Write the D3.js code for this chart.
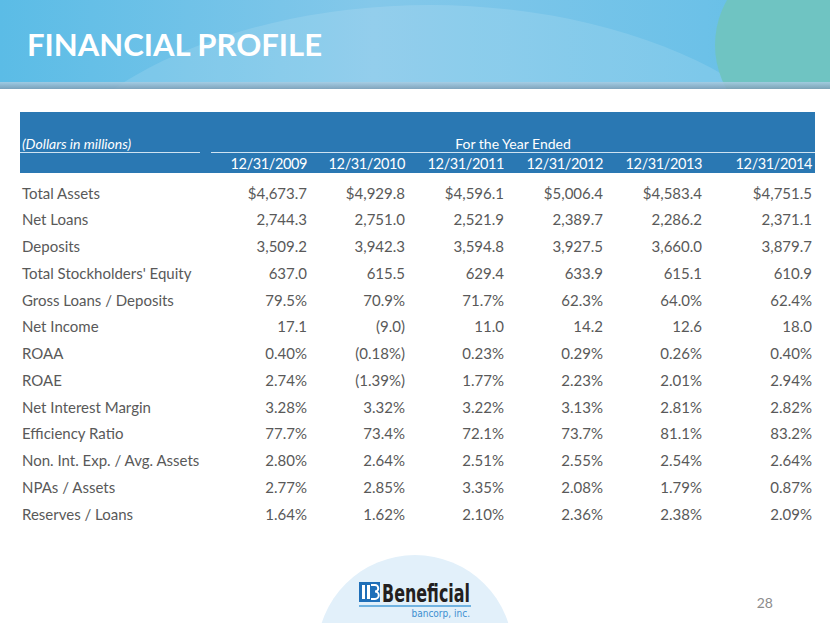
<!DOCTYPE html>
<meta charset="utf-8">
<style>
body { margin: 0; background: #fff; }
svg text { font-family: Lato, "Open Sans", sans-serif; }
.lbl, .val { fill: #595959; font-size: 15px; }
.hdr { fill: #fff; font-size: 15px; }
.yr { font-size: 14.5px; letter-spacing: -0.4px; }
</style>
<body>
<script src="https://cdn.jsdelivr.net/npm/d3@7"></script>
<script>
// table content
var years = ["12/31/2009", "12/31/2010", "12/31/2011", "12/31/2012", "12/31/2013", "12/31/2014"];
var rowLabels = ["Total Assets", "Net Loans", "Deposits", "Total Stockholders' Equity",
  "Gross Loans / Deposits", "Net Income", "ROAA", "ROAE", "Net Interest Margin",
  "Efficiency Ratio", "Non. Int. Exp. / Avg. Assets", "NPAs / Assets", "Reserves / Loans"];

var totalAssets   = [4673.7, 4929.8, 4596.1, 5006.4, 4583.4, 4751.5];
var netLoans      = [2744.3, 2751.0, 2521.9, 2389.7, 2286.2, 2371.1];
var deposits      = [3509.2, 3942.3, 3594.8, 3927.5, 3660.0, 3879.7];
var equity        = [637.0, 615.5, 629.4, 633.9, 615.1, 610.9];
var loansDeposits = [79.5, 70.9, 71.7, 62.3, 64.0, 62.4];
var netIncome     = [17.1, -9.0, 11.0, 14.2, 12.6, 18.0];
var roaa          = [0.40, -0.18, 0.23, 0.29, 0.26, 0.40];
var roae          = [2.74, -1.39, 1.77, 2.23, 2.01, 2.94];
var nim           = [3.28, 3.32, 3.22, 3.13, 2.81, 2.82];
var efficiency    = [77.7, 73.4, 72.1, 73.7, 81.1, 83.2];
var nonIntExp     = [2.80, 2.64, 2.51, 2.55, 2.54, 2.64];
var npaAssets     = [2.77, 2.85, 3.35, 2.08, 1.79, 0.87];
var reserves      = [1.64, 1.62, 2.10, 2.36, 2.38, 2.09];

// how each row is printed
var rowFormats = ["dollar", "num", "num", "num", "pct1", "num", "pct2", "pct2", "pct2",
  "pct1", "pct2", "pct2", "pct2"];
var rowValues = [totalAssets, netLoans, deposits, equity, loansDeposits, netIncome, roaa,
  roae, nim, efficiency, nonIntExp, npaAssets, reserves];

var W = 830, H = 623;

var svg = d3.select("body").append("svg")
    .attr("width", W)
    .attr("height", H);

var defs = svg.append("defs");

var sky = defs.append("linearGradient").attr("id", "sky")
    .attr("x1", 0).attr("x2", 1).attr("y1", 0).attr("y2", 0);
sky.append("stop").attr("offset", "0%").attr("stop-color", "#5bbce6");
sky.append("stop").attr("offset", "45%").attr("stop-color", "#84c8ea");
sky.append("stop").attr("offset", "85%").attr("stop-color", "#6cc1e8");
sky.append("stop").attr("offset", "100%").attr("stop-color", "#60bee6");

var shade = defs.append("linearGradient").attr("id", "shade")
    .attr("x1", 0).attr("x2", 0).attr("y1", 0).attr("y2", 1);
shade.append("stop").attr("offset", "0%").attr("stop-color", "#a9cde3");
shade.append("stop").attr("offset", "100%").attr("stop-color", "#7e9db4");

defs.append("clipPath").attr("id", "hclip")
  .append("rect").attr("width", W).attr("height", 89);

// header band
var head = svg.append("g").attr("clip-path", "url(#hclip)");
head.append("rect").attr("width", W).attr("height", 89).attr("fill", "url(#sky)");
head.append("ellipse")
    .attr("cx", 430).attr("cy", 250).attr("rx", 420).attr("ry", 245)
    .attr("fill", "#ffffff").attr("opacity", 0.12);
head.append("circle")
    .attr("cx", 805).attr("cy", 45).attr("r", 90)
    .attr("fill", "#6fc4c2");
head.append("rect").attr("y", 82).attr("width", W).attr("height", 7)
    .attr("fill", "url(#shade)").attr("opacity", 0.85);

svg.append("text")
    .attr("x", 27).attr("y", 56)
    .attr("fill", "#fff")
    .style("font-size", "31px").style("font-weight", "bold")
    .attr("textLength", 295).attr("lengthAdjust", "spacingAndGlyphs")
    .text("FINANCIAL PROFILE");

// bottom decoration
svg.append("circle")
    .attr("cx", 415).attr("cy", 653).attr("r", 98)
    .attr("fill", "#e2f0fa");

// table
var left = 20, right = 815;
var colWidths = [287, 98, 99, 99, 99, 110];
var colEdges = d3.cumsum(colWidths).map(function(d) { return left + d; });
var x = d3.scaleOrdinal().domain(years).range(colEdges);

var y = d3.scalePoint().domain(rowLabels).range([198.5, 519.5]);

var band = svg.append("g");
band.append("rect")
    .attr("x", left).attr("y", 112)
    .attr("width", right - left).attr("height", 61)
    .attr("fill", "#2a78b3");
band.append("line")
    .attr("x1", left).attr("x2", 200).attr("y1", 152.5).attr("y2", 152.5)
    .attr("stroke", "#cfe3f2").attr("stroke-width", 1.2);
band.append("line")
    .attr("x1", 211).attr("x2", right).attr("y1", 152.5).attr("y2", 152.5)
    .attr("stroke", "#cfe3f2").attr("stroke-width", 1.2);
band.append("text")
    .attr("class", "hdr")
    .attr("x", 22).attr("y", 149)
    .style("font-style", "italic").style("font-size", "14px")
    .text("(Dollars in millions)");
band.append("text")
    .attr("class", "hdr")
    .attr("x", 513).attr("y", 149)
    .attr("text-anchor", "middle").style("font-size", "14px")
    .text("For the Year Ended");
band.selectAll("text.yr")
    .data(years).enter()
  .append("text")
    .attr("class", "hdr yr")
    .attr("x", function(d) { return x(d); })
    .attr("y", 168.5)
    .attr("text-anchor", "end")
    .text(function(d) { return d; });

function fmt(v, kind) {
  var s;
  if (kind == "dollar") s = "$" + d3.format(",.1f")(Math.abs(v));
  else if (kind == "num") s = d3.format(",.1f")(Math.abs(v));
  else if (kind == "pct1") s = d3.format(".1f")(Math.abs(v)) + "%";
  else s = d3.format(".2f")(Math.abs(v)) + "%";
  return v < 0 ? "(" + s + ")" : s;
}

var rows = svg.selectAll("g.row")
    .data(rowLabels).enter()
  .append("g")
    .attr("class", "row")
    .attr("transform", function(d) { return "translate(0," + y(d) + ")"; });

rows.append("text")
    .attr("class", "lbl")
    .attr("x", 22)
    .text(function(d) { return d; });

rows.selectAll("text.val")
    .data(function(d, i) {
      return rowValues[i].map(function(v, j) { return {v: v, yr: years[j], kind: rowFormats[i]}; });
    }).enter()
  .append("text")
    .attr("class", "val")
    .attr("x", function(d) { return x(d.yr); })
    .attr("text-anchor", "end")
    .text(function(d) { return fmt(d.v, d.kind); });

// logo
var logo = svg.append("g");
logo.append("rect").attr("x", 359).attr("y", 582).attr("width", 21).attr("height", 20)
    .attr("fill", "#1f6fb8");
logo.append("rect").attr("x", 362).attr("y", 585).attr("width", 3).attr("height", 14).attr("fill", "#fff");
logo.append("rect").attr("x", 367).attr("y", 585).attr("width", 3).attr("height", 14).attr("fill", "#fff");
logo.append("path")
    .attr("d", "M371,585 h4 a3.2,3.2 0 0 1 0,6.5 a3.4,3.4 0 0 1 0,7.5 h-4")
    .attr("fill", "none").attr("stroke", "#fff").attr("stroke-width", 2);
logo.append("text")
    .attr("x", 382).attr("y", 602)
    .attr("fill", "#231f20")
    .style("font-family", "'DejaVu Sans Condensed', 'Liberation Sans Narrow', sans-serif")
    .style("font-size", "25px").style("font-weight", "bold")
    .attr("textLength", 88).attr("lengthAdjust", "spacingAndGlyphs")
    .text("Beneficial");
logo.append("line")
    .attr("x1", 359).attr("x2", 471).attr("y1", 606).attr("y2", 606)
    .attr("stroke", "#4a9fd8").attr("stroke-width", 1.5);
logo.append("text")
    .attr("x", 470).attr("y", 617)
    .attr("text-anchor", "end")
    .attr("fill", "#3d8fd0")
    .style("font-family", "'Liberation Sans Narrow', 'DejaVu Sans Condensed', sans-serif")
    .style("font-size", "10px")
    .text("bancorp, inc.");

svg.append("text")
    .attr("x", 773).attr("y", 608)
    .attr("text-anchor", "end")
    .attr("fill", "#8c8c8c")
    .style("font-size", "14px")
    .text("28");
</script>
</body>
